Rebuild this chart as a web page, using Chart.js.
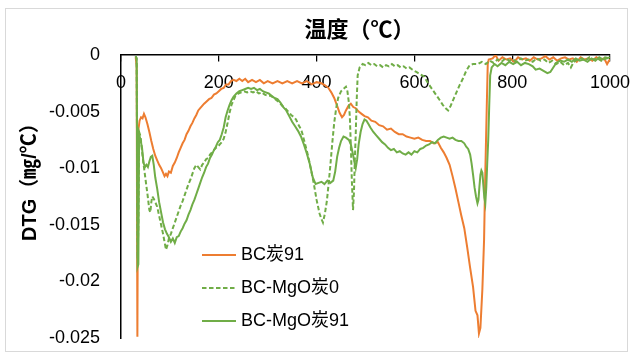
<!DOCTYPE html>
<html><head><meta charset="utf-8">
<script src="https://cdn.jsdelivr.net/npm/chart.js@4"></script>
<style>
html,body{margin:0;padding:0;background:#fff;}
#wrap{position:relative;width:634px;height:360px;overflow:hidden;}
#frame{position:absolute;left:5px;top:8px;width:623px;height:344px;border:1px solid #d9d9d9;box-sizing:border-box;}
canvas{position:absolute;left:0;top:0;}
</style></head><body>
<div id="wrap"><div id="frame"></div><canvas id="c" width="634" height="360" style="width:634px;height:360px"></canvas></div>
<script>
// ---------- DATA ----------
const seriesNames = ['BC炭91', 'BC-MgO炭0', 'BC-MgO炭91'];
const xTitleText = '温度（℃）';
const yTitleText = 'DTG（㎎/℃）';
const xTickValues = [0, 200, 400, 600, 800, 1000];
const xTickLabels = ['0', '200', '400', '600', '800', '1000'];
const yTickLabels = ['0', '-0.005', '-0.01', '-0.015', '-0.02', '-0.025'];

// [temperature °C, DTG mg/°C]
const bc91 = [
[30,-0.0002],[32,-0.0010],[33.5,-0.0249],[35,-0.0068],[38,-0.0058],[41,-0.0055],[44,-0.0056],[47,-0.0052],[50,-0.0055],[54,-0.0061],
[58,-0.0068],[62,-0.0076],[66,-0.0083],[70,-0.0089],[74,-0.0093],[78,-0.0097],[82,-0.0100],[86,-0.0104],[89,-0.0107],[92,-0.0105],
[95,-0.0107],[98,-0.0103],[102,-0.0104],[106,-0.0098],[110,-0.0095],[114,-0.0091],[118,-0.0086],[122,-0.0082],[126,-0.0078],[130,-0.0075],
[134,-0.0070],[138,-0.0067],[142,-0.0063],[146,-0.0060],[150,-0.0056],[154,-0.0053],[158,-0.0049],[162,-0.0047],[166,-0.0045],[170,-0.0043],
[175,-0.0041],[180,-0.0039],[185,-0.0038],[190,-0.0035],[195,-0.0034],[200,-0.0032],[205,-0.0030],[210,-0.0029],[215,-0.0026],[220,-0.0026],
[225,-0.0023],[230,-0.0022],[236,-0.0023],[242,-0.0021],[248,-0.0023],[254,-0.0021],[260,-0.0024],[268,-0.0022],[276,-0.0024],[284,-0.0022],
[292,-0.0025],[300,-0.0023],[310,-0.0025],[320,-0.0023],[330,-0.0025],[340,-0.0023],[350,-0.0025],[360,-0.0023],[370,-0.0025],[380,-0.0023],
[390,-0.0026],[400,-0.0024],[410,-0.0025],[418,-0.0027],[424,-0.0029],[430,-0.0033],[436,-0.0038],[442,-0.0045],[447,-0.0051],[452,-0.0055],
[456,-0.0053],[460,-0.0049],[465,-0.0045],[470,-0.0043],[475,-0.0046],[480,-0.0047],[486,-0.0050],[492,-0.0052],[498,-0.0054],[505,-0.0055],
[512,-0.0058],[520,-0.0059],[528,-0.0062],[536,-0.0063],[544,-0.0066],[552,-0.0065],[560,-0.0068],[568,-0.0070],[576,-0.0070],[584,-0.0072],
[592,-0.0073],[600,-0.0074],[608,-0.0073],[616,-0.0075],[624,-0.0076],[632,-0.0076],[640,-0.0078],[648,-0.0077],[654,-0.0082],[660,-0.0086],
[666,-0.0091],[672,-0.0097],[678,-0.0107],[684,-0.0118],[690,-0.0130],[696,-0.0142],[702,-0.0153],[708,-0.0170],[714,-0.0188],[720,-0.0205],
[725,-0.0226],[729,-0.0230],[732,-0.0246],[735,-0.0241],[739,-0.0207],[742.5,-0.0163],[745,-0.0104],[748,-0.0045],[750,-0.0008],[752,-0.0004],
[760,-0.0003],[766,0.0000],[772,-0.0005],[780,-0.0002],[788,-0.0004],[796,-0.0003],[804,-0.0006],[812,-0.0002],[820,-0.0004],[828,-0.0003],
[836,-0.0005],[844,-0.0002],[852,-0.0004],[860,-0.0003],[868,-0.0001],[876,-0.0004],[884,-0.0002],[892,-0.0005],[900,-0.0003],[908,-0.0002],
[916,-0.0004],[924,-0.0003],[932,-0.0006],[940,-0.0002],[948,-0.0004],[956,-0.0003],[964,-0.0005],[972,-0.0002],[980,-0.0004],[988,-0.0003],
[994,-0.0008],[998,-0.0005],[1000,-0.0004]
];

const mgo0 = [
[30,-0.0001],[32,-0.0003],[34,-0.0180],[35.5,-0.0150],[37,-0.0068],[40,-0.0072],[43,-0.0085],[46,-0.0096],[49,-0.0106],[52,-0.0116],
[55,-0.0126],[58,-0.0137],[60,-0.0139],[62,-0.0130],[64,-0.0125],[67,-0.0127],[70,-0.0130],[74,-0.0134],[78,-0.0142],[82,-0.0150],
[86,-0.0158],[89,-0.0165],[92,-0.0172],[95,-0.0168],[98,-0.0162],[102,-0.0158],[106,-0.0153],[110,-0.0148],[114,-0.0143],[118,-0.0138],
[122,-0.0133],[126,-0.0129],[130,-0.0124],[134,-0.0119],[138,-0.0114],[142,-0.0110],[146,-0.0105],[150,-0.0100],[154,-0.0097],[158,-0.0099],
[162,-0.0101],[166,-0.0097],[170,-0.0095],[174,-0.0092],[178,-0.0091],[182,-0.0088],[186,-0.0086],[190,-0.0084],[194,-0.0082],[198,-0.0081],
[202,-0.0079],[206,-0.0077],[210,-0.0074],[214,-0.0068],[218,-0.0060],[222,-0.0051],[226,-0.0044],[230,-0.0040],[234,-0.0036],[240,-0.0034],
[246,-0.0033],[252,-0.0032],[258,-0.0033],[264,-0.0032],[270,-0.0033],[276,-0.0032],[282,-0.0034],[288,-0.0033],[294,-0.0035],[300,-0.0036],
[306,-0.0036],[312,-0.0038],[318,-0.0040],[324,-0.0042],[330,-0.0045],[336,-0.0047],[342,-0.0050],[348,-0.0053],[354,-0.0055],[358,-0.0057],
[362,-0.0061],[366,-0.0064],[370,-0.0068],[376,-0.0078],[382,-0.0088],[388,-0.0100],[394,-0.0113],[400,-0.0128],[406,-0.0140],[410,-0.0145],
[413,-0.0148],[417,-0.0140],[421,-0.0129],[425,-0.0112],[428,-0.0098],[432,-0.0078],[436,-0.0060],[440,-0.0047],[444,-0.0038],[450,-0.0032],
[455,-0.0030],[460,-0.0028],[463,-0.0032],[466,-0.0042],[468,-0.0055],[470,-0.0080],[472,-0.0110],[474.5,-0.0137],[476.5,-0.0120],[478,-0.0095],
[480,-0.0070],[482,-0.0040],[484,-0.0018],[488,-0.0011],[494,-0.0008],[500,-0.0009],[506,-0.0007],[512,-0.0009],[518,-0.0008],[524,-0.0010],
[530,-0.0009],[536,-0.0011],[542,-0.0009],[548,-0.0010],[554,-0.0008],[560,-0.0010],[566,-0.0009],[572,-0.0011],[578,-0.0010],[584,-0.0012],
[590,-0.0011],[596,-0.0013],[604,-0.0015],[612,-0.0017],[620,-0.0019],[628,-0.0025],[636,-0.0030],[644,-0.0035],[652,-0.0040],[658,-0.0044],
[664,-0.0047],[669,-0.0049],[674,-0.0045],[680,-0.0039],[686,-0.0033],[692,-0.0027],[699,-0.0021],[706,-0.0014],[713,-0.0009],[720,-0.0008],
[730,-0.0008],[738,-0.0006],[746,-0.0008],[754,-0.0005],[762,-0.0007],[770,-0.0004],[778,-0.0006],[786,-0.0003],[794,-0.0005],[802,-0.0004],
[810,-0.0006],[818,-0.0003],[826,-0.0005],[834,-0.0004],[842,-0.0006],[850,-0.0003],[858,-0.0005],[866,-0.0004],[874,-0.0007],[882,-0.0005],
[890,-0.0008],[898,-0.0006],[906,-0.0009],[914,-0.0007],[920,-0.0011],[926,-0.0006],[934,-0.0004],[942,-0.0003],[950,-0.0005],[958,-0.0002],
[966,-0.0004],[974,-0.0003],[982,-0.0005],[990,-0.0002],[1000,-0.0003]
];

const mgo91 = [
[30,-0.0001],[32,-0.0003],[34,-0.0187],[35.5,-0.0185],[37,-0.0070],[40,-0.0075],[43,-0.0082],[46,-0.0095],[49,-0.0099],[52,-0.0097],
[55,-0.0099],[58,-0.0094],[61,-0.0090],[64,-0.0089],[67,-0.0097],[70,-0.0108],[74,-0.0118],[78,-0.0130],[82,-0.0139],[86,-0.0148],
[90,-0.0154],[94,-0.0158],[98,-0.0161],[102,-0.0165],[106,-0.0162],[110,-0.0166],[114,-0.0161],[118,-0.0160],[122,-0.0156],[126,-0.0153],
[130,-0.0149],[134,-0.0146],[138,-0.0141],[142,-0.0137],[146,-0.0132],[150,-0.0128],[154,-0.0123],[158,-0.0118],[162,-0.0113],[166,-0.0108],
[170,-0.0104],[174,-0.0099],[178,-0.0096],[182,-0.0091],[186,-0.0088],[190,-0.0084],[194,-0.0081],[198,-0.0077],[202,-0.0075],[206,-0.0070],
[210,-0.0064],[214,-0.0055],[218,-0.0049],[222,-0.0044],[226,-0.0040],[230,-0.0037],[236,-0.0034],[242,-0.0032],[248,-0.0031],[254,-0.0030],
[260,-0.0029],[266,-0.0030],[272,-0.0029],[278,-0.0031],[284,-0.0030],[290,-0.0032],[296,-0.0033],[302,-0.0034],[308,-0.0036],[314,-0.0038],
[320,-0.0039],[326,-0.0042],[332,-0.0046],[338,-0.0049],[344,-0.0054],[350,-0.0059],[356,-0.0063],[362,-0.0067],[368,-0.0072],[374,-0.0079],
[380,-0.0087],[386,-0.0096],[392,-0.0108],[398,-0.0114],[404,-0.0113],[410,-0.0112],[416,-0.0114],[422,-0.0111],[428,-0.0113],[434,-0.0111],
[438,-0.0103],[442,-0.0090],[446,-0.0082],[450,-0.0076],[455,-0.0072],[460,-0.0073],[466,-0.0075],[470,-0.0079],[474,-0.0087],[478,-0.0096],
[480,-0.0100],[483,-0.0092],[486,-0.0079],[490,-0.0068],[494,-0.0061],[498,-0.0057],[502,-0.0058],[506,-0.0061],[510,-0.0064],[516,-0.0068],
[522,-0.0071],[528,-0.0074],[534,-0.0077],[540,-0.0079],[546,-0.0082],[552,-0.0084],[558,-0.0083],[564,-0.0086],[570,-0.0085],[576,-0.0087],
[582,-0.0088],[588,-0.0086],[594,-0.0088],[600,-0.0085],[606,-0.0086],[612,-0.0083],[618,-0.0082],[624,-0.0080],[630,-0.0079],[636,-0.0077],
[642,-0.0078],[648,-0.0075],[654,-0.0073],[660,-0.0072],[666,-0.0073],[672,-0.0074],[678,-0.0073],[684,-0.0075],[690,-0.0076],[696,-0.0076],
[702,-0.0078],[706,-0.0081],[710,-0.0083],[714,-0.0088],[717,-0.0096],[720,-0.0106],[723,-0.0117],[726,-0.0125],[729,-0.0131],[731,-0.0128],
[733,-0.0116],[735,-0.0106],[737,-0.0102],[739,-0.0104],[741,-0.0115],[743,-0.0126],[745,-0.0131],[747,-0.0117],[749,-0.0095],[751,-0.0075],
[753,-0.0045],[755,-0.0018],[758,-0.0011],[764,-0.0008],[770,-0.0010],[778,-0.0007],[786,-0.0009],[794,-0.0006],[802,-0.0008],[810,-0.0006],
[818,-0.0009],[826,-0.0007],[834,-0.0008],[842,-0.0010],[848,-0.0013],[856,-0.0012],[864,-0.0014],[872,-0.0016],[878,-0.0015],[884,-0.0011],
[890,-0.0007],[898,-0.0005],[906,-0.0006],[914,-0.0004],[922,-0.0006],[930,-0.0003],[938,-0.0005],[946,-0.0004],[954,-0.0006],[962,-0.0003],
[970,-0.0005],[978,-0.0002],[986,-0.0004],[994,-0.0003],[1000,-0.0002]
];

// ---------- STYLE ----------
const ORANGE = '#ED7D31', GREEN = '#70AD47';
const FONT = "'Liberation Sans','Noto Sans CJK SC',sans-serif";
const toXY = arr => arr.map(p => ({x: p[0], y: p[1]}));

const legendRowsY = [255, 288, 321];
const insideLegend = {
  id: 'insideLegend',
  afterDraw(chart) {
    const ctx = chart.ctx;
    ctx.save();
    chart.data.datasets.forEach((ds, i) => {
      const y = legendRowsY[i];
      ctx.beginPath();
      ctx.strokeStyle = ds.borderColor;
      ctx.lineWidth = ds.borderWidth;
      ctx.setLineDash(ds.borderDash || []);
      ctx.moveTo(202, y); ctx.lineTo(236, y);
      ctx.stroke();
      ctx.setLineDash([]);
      ctx.fillStyle = '#000';
      ctx.font = '18px ' + FONT;
      ctx.textBaseline = 'middle';
      ctx.textAlign = 'left';
      ctx.fillText(ds.label, 241, y);
    });
    ctx.restore();
  }
};

const noSidePad = s => { s.paddingLeft = 0; s.paddingRight = 0; };

new Chart(document.getElementById('c'), {
  type: 'scatter',
  data: {
    datasets: [
      {label: seriesNames[0], data: toXY(bc91), showLine: true, borderColor: ORANGE, backgroundColor: ORANGE, borderWidth: 2, pointRadius: 0, order: 3},
      {label: seriesNames[1], data: toXY(mgo0), showLine: true, borderColor: GREEN, backgroundColor: GREEN, borderWidth: 2, borderDash: [4.5, 2.5], pointRadius: 0, order: 2},
      {label: seriesNames[2], data: toXY(mgo91), showLine: true, borderColor: GREEN, backgroundColor: GREEN, borderWidth: 2, pointRadius: 0, order: 1}
    ]
  },
  options: {
    responsive: false,
    animation: false,
    layout: {padding: {left: 0, right: 24, top: 0, bottom: 22}},
    plugins: {legend: {display: false}, tooltip: {enabled: false}, title: {display: false}},
    scales: {
      x: {
        type: 'linear', min: 0, max: 1000,
        position: {y: 0},
        afterBuildTicks: s => { s.ticks = xTickValues.map(v => ({value: v})); },
        ticks: {color: '#000', font: {family: FONT, size: 18}, padding: 11, maxRotation: 0,
          callback: v => xTickLabels[xTickValues.indexOf(v)]},
        grid: {drawOnChartArea: false, drawTicks: true, tickLength: 6, color: '#000', lineWidth: 1.25},
        border: {display: true, color: '#000', width: 1.5},
        afterFit: noSidePad
      },
      xt: {
        type: 'linear', min: 0, max: 1000, position: 'top', axis: 'x',
        ticks: {display: false}, grid: {display: false, drawTicks: false}, border: {display: false},
        title: {display: true, text: xTitleText + '  ', color: '#000', font: {family: FONT, size: 22, weight: 'bold'}, padding: {top: 18, bottom: 0}},
        afterFit: s => { s.height = 55; noSidePad(s); }
      },
      y: {
        type: 'linear', min: -0.025, max: 0, position: 'left',
        ticks: {stepSize: 0.005, color: '#000', font: {family: FONT, size: 18}, padding: 21,
          callback: v => yTickLabels[Math.round(-v / 0.005)]},
        grid: {display: false, drawTicks: false},
        border: {display: true, color: '#000', width: 1.5},
        title: {display: true, text: '       ' + yTitleText, color: '#000', font: {family: FONT, size: 20, weight: 'bold'}, padding: {top: 18, bottom: 0}},
        afterFit: s => { s.width = 121; s.paddingTop = 0; s.paddingBottom = 0; }
      }
    }
  },
  plugins: [insideLegend]
});
</script>
</body></html>
